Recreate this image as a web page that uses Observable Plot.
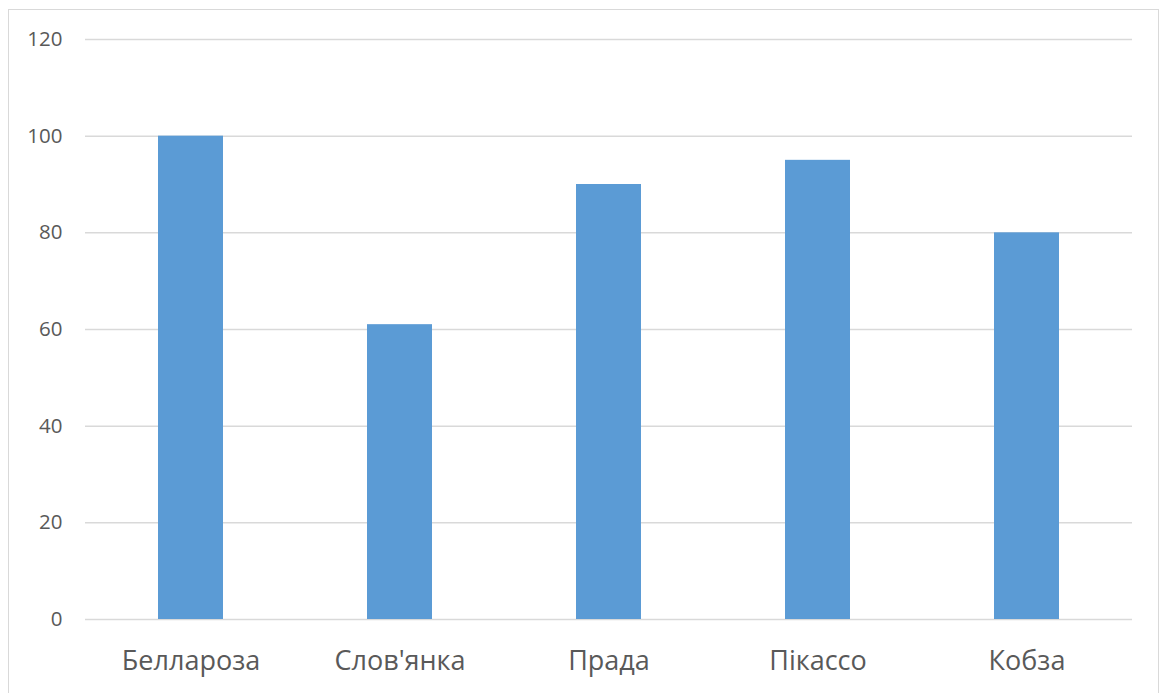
<!DOCTYPE html>
<html>
<head>
<meta charset="utf-8">
<script src="https://cdn.jsdelivr.net/npm/d3@7"></script>
<script src="https://cdn.jsdelivr.net/npm/@observablehq/plot@0.6"></script>
<style>
  html, body { margin: 0; padding: 0; background: #fff; overflow: hidden; }
  #wrap { position: relative; width: 1161px; height: 693px; }
  #box { position: absolute; left: 8px; top: 9px; width: 1151px; height: 700px;
         border: 1px solid #d9d9d9; box-sizing: border-box; pointer-events: none; }
</style>
</head>
<body>
<div id="wrap"><div id="box"></div></div>
<script>
// Varieties and their scores
const varieties = ["Беллароза", "Слов'янка", "Прада", "Пікассо", "Кобза"];
const scores = [100, 61, 90, 95, 80];
const yTicks = [0, 20, 40, 60, 80, 100, 120];

const rows = varieties.map((name, i) => ({name, score: scores[i]}));

const chart = Plot.plot({
  width: 1161,
  height: 693,
  marginLeft: 85,
  marginRight: 29,
  marginTop: 39,
  marginBottom: 74,
  style: {fontFamily: "'Open Sans', sans-serif", background: "transparent"},
  x: {domain: varieties, paddingInner: 0.69, paddingOuter: 0.345, label: null},
  y: {domain: [0, 120], label: null},
  marks: [
    Plot.ruleY(yTicks, {stroke: "#d9d9d9", strokeWidth: 1.5}),
    Plot.barY(rows, {x: "name", y: "score", fill: "#5b9bd5"}),
    Plot.axisY(yTicks, {tickSize: 0, tickPadding: 23, fontSize: 20.5, fill: "#595959", label: null}),
    Plot.axisX({tickSize: 0, tickPadding: 31, fontSize: 27, fill: "#595959", label: null})
  ]
});
document.getElementById("wrap").prepend(chart);
</script>
</body>
</html>
